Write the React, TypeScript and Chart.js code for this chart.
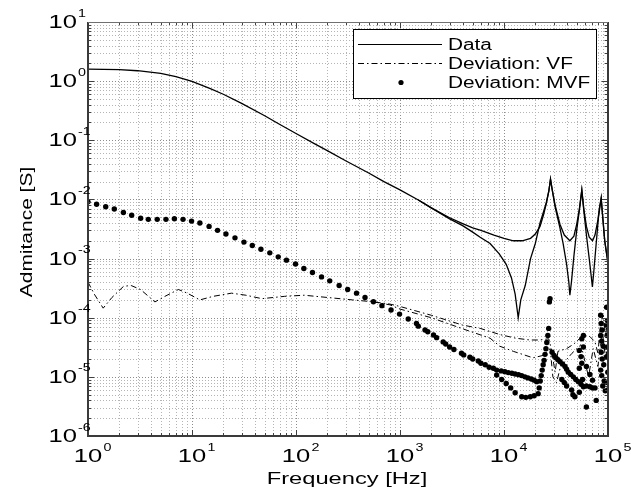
import React, { useEffect, useRef } from "react";
import { Chart, registerables } from "chart.js";
Chart.register(...registerables);

// ---------- data ----------
const dataFreqA = [1, 2, 3, 5, 7, 10, 15, 20, 30, 50, 70, 100, 150, 200, 300, 500, 700, 1000, 1500, 2000, 3000, 4000, 5000, 6000, 8000, 10000, 12300, 15000, 18000, 20000, 22200, 24000, 25500, 27000, 28000, 29000, 31000, 34500, 38000, 43000, 47000, 50000, 53000, 56000, 58500, 62000, 66000, 71000, 75000, 80000, 83000, 86000, 89000, 93000, 97000, 100000];
const dataValA = [1.6, 1.57, 1.5, 1.35, 1.19, 0.99, 0.75, 0.6, 0.42, 0.26, 0.185, 0.13, 0.088, 0.067, 0.045, 0.028, 0.02, 0.0145, 0.0098, 0.0072, 0.0049, 0.0039, 0.0033, 0.003, 0.0025, 0.0022, 0.002, 0.002, 0.0022, 0.0026, 0.0035, 0.0055, 0.0085, 0.014, 0.022, 0.015, 0.008, 0.0038, 0.0025, 0.002, 0.0024, 0.0038, 0.0068, 0.0144, 0.007, 0.0035, 0.0023, 0.002, 0.0025, 0.0045, 0.0075, 0.0105, 0.005, 0.002, 0.0012, 0.0009];

const dataFreqB = [1500, 2000, 3000, 4000, 5000, 5900, 7350, 9000, 10500, 11800, 12800, 13700, 14500, 16000, 18000, 20000, 22200, 24000, 25500, 27000, 28000, 29000, 31000, 34500, 37000, 40000, 42000, 43000, 44500, 47000, 50000, 53000, 56000, 58500, 62000, 66000, 69000, 70800, 73000, 77000, 81000, 86000, 89000, 93000, 97000, 100000];
const dataValB = [0.0098, 0.0072, 0.0047, 0.0036, 0.0028, 0.0023, 0.0018, 0.0012, 0.0008, 0.00047, 0.00025, 0.0001, 0.0002, 0.00035, 0.001, 0.0018, 0.004, 0.0062, 0.0088, 0.014, 0.022, 0.015, 0.0075, 0.0033, 0.0018, 0.0008, 0.0004, 0.00024, 0.0004, 0.0011, 0.003, 0.0065, 0.0144, 0.0065, 0.0025, 0.001, 0.0005, 0.00033, 0.0006, 0.0018, 0.005, 0.0105, 0.005, 0.002, 0.0012, 0.0008];

const vfFreqA = [1, 1.15, 1.4, 1.7, 2.2, 2.6, 3.2, 4.4, 5.5, 7.4, 9, 11.9, 16, 24, 33, 47, 78, 120, 200, 350, 550, 800, 1000, 2000, 4000, 5900, 9100, 13000, 17800, 22000, 26900, 28500, 31000, 33000, 40000, 47000, 53000, 62000, 67000, 75000, 80000, 85000, 90000, 95000, 100000];
const vfValA = [4.0e-4, 2.5e-4, 1.45e-4, 2.2e-4, 3.4e-4, 3.5e-4, 3.0e-4, 1.85e-4, 2.3e-4, 3.0e-4, 2.6e-4, 2.0e-4, 2.3e-4, 2.6e-4, 2.4e-4, 2.1e-4, 2.3e-4, 2.4e-4, 2.2e-4, 2.0e-4, 1.86e-4, 1.7e-4, 1.55e-4, 1.1e-4, 7.5e-5, 6.6e-5, 5.2e-5, 4.5e-5, 4.2e-5, 4.2e-5, 4.4e-5, 3.0e-5, 1.2e-5, 2.7e-5, 3.0e-5, 3.6e-5, 4.4e-5, 5.0e-5, 4.8e-5, 3.9e-5, 2.5e-5, 8e-5, 1.1e-4, 5e-5, 1.1e-4];

const vfFreqB = [550, 800, 1000, 2000, 4000, 7350, 9100, 12300, 19000, 23700, 27800, 29500, 32000, 35000, 45000, 55000, 65000, 72000, 80000, 88000, 95000, 100000];
const vfValB = [1.86e-4, 1.65e-4, 1.4e-4, 1.0e-4, 6.5e-5, 4.5e-5, 3.3e-5, 2.7e-5, 2.1e-5, 2.3e-5, 3.0e-5, 1.0e-5, 8e-6, 1.5e-5, 2.5e-5, 3.5e-5, 1.0e-5, 3e-5, 1.5e-5, 6e-5, 2e-5, 4e-5];

const mvfFreq = [
  1, 1.21, 1.48, 1.79, 2.19, 2.63, 3.21, 3.8, 4.63, 5.62, 6.77, 8.2, 9.9, 11.9, 14.6, 17.6, 21.2, 25.9, 31.6, 38, 46, 56, 67.5, 81, 99, 119, 144, 176, 211, 260, 314, 382, 461, 555, 670, 820, 990, 1200, 1440, 1740, 2100, 2600, 3000, 3900, 4700, 5660, 6600, 7900,
  1500, 1850, 2250, 2750, 3300, 4100, 5000, 6000, 7200,
  8500, 9400, 10200, 11000, 11900, 12800, 13800, 14800, 15900, 17000, 18300, 19500, 20600,
  8500, 9500, 10500, 11600, 12800, 14800, 16200, 17900, 19500, 21300,
  21800, 22300, 22800, 23300, 23800, 24300, 24800, 25300, 25800, 26400, 26900, 27300, 27700,
  29000, 30300, 31500, 33000, 34600, 36500, 38600, 40000, 41500, 43800, 46400, 49000, 51900, 55000, 58000, 62000, 67000, 71000, 75000,
  44700, 46000, 48000, 53000, 62000, 77000, 53000, 55000, 58000, 56000, 58000, 62000, 67000, 71000, 53000, 56000, 57000, 36000, 38000, 40000,
  85000, 86000, 88000, 85000, 87000, 90000, 86000, 88000, 91000, 85000, 87000, 92000, 89000, 94000, 96000, 98000, 99000, 97000, 99500, 98000, 100000, 97000, 99000
];
const mvfVal = [
  9.1e-3, 8.3e-3, 7.5e-3, 6.9e-3, 6.0e-3, 5.4e-3, 4.8e-3, 4.6e-3, 4.6e-3, 4.6e-3, 4.7e-3, 4.6e-3, 4.3e-3, 4.0e-3, 3.5e-3, 3.0e-3, 2.6e-3, 2.24e-3, 1.9e-3, 1.66e-3, 1.44e-3, 1.25e-3, 1.07e-3, 9.4e-4, 8.1e-4, 6.8e-4, 5.8e-4, 4.9e-4, 4.2e-4, 3.5e-4, 3.0e-4, 2.6e-4, 2.2e-4, 1.86e-4, 1.6e-4, 1.35e-4, 1.15e-4, 9.5e-5, 8e-5, 6.2e-5, 5.1e-5, 3.9e-5, 3.2e-5, 2.5e-5, 2.15e-5, 1.85e-5, 1.6e-5, 1.4e-5,
  7.2e-5, 5.8e-5, 4.6e-5, 3.6e-5, 2.9e-5, 2.35e-5, 2.0e-5, 1.7e-5, 1.45e-5,
  1.3e-5, 1.26e-5, 1.22e-5, 1.18e-5, 1.15e-5, 1.12e-5, 1.09e-5, 1.05e-5, 1.0e-5, 9.6e-6, 9.2e-6, 8.8e-6, 8.3e-6,
  1.07e-5, 9e-6, 7.7e-6, 6.5e-6, 5.4e-6, 4.6e-6, 4.5e-6, 4.6e-6, 4.8e-6, 5.2e-6,
  6.5e-6, 8.5e-6, 1.05e-5, 1.3e-5, 1.6e-5, 1.9e-5, 2.4e-5, 3.0e-5, 3.8e-5, 5e-5, 6.6e-5, 1.85e-4, 2.1e-4,
  2.6e-5, 2.3e-5, 2.1e-5, 1.95e-5, 1.8e-5, 1.65e-5, 1.5e-5, 1.35e-5, 1.2e-5, 1.1e-5, 1.0e-5, 9e-6, 8.3e-6, 7.5e-6, 6.8e-6, 7e-6, 6.8e-6, 6.5e-6, 6.5e-6,
  6e-6, 5e-6, 4.6e-6, 5.5e-6, 3.1e-6, 4e-6, 1.4e-5, 2.2e-5, 3.2e-5, 4.4e-5, 5e-5, 1.5e-5, 1.1e-5, 8.8e-6, 2.8e-5, 1.7e-5, 9e-6, 9e-6, 8e-6, 7e-6,
  1.1e-4, 8e-5, 6.2e-5, 5e-5, 4e-5, 3.3e-5, 2.6e-5, 2e-5, 1.6e-5, 1.3e-5, 1.05e-5, 8.5e-6, 7e-6, 5.8e-6, 7.5e-5, 5e-5, 3.2e-5, 2.2e-5, 1.2e-5, 8e-6, 6e-6, 1.5e-4, 9e-5
];

const legendLabels = ["Data", "Deviation: VF", "Deviation: MVF"];
const xTickExps = [0, 1, 2, 3, 4, 5];
const yTickExps = [-6, -5, -4, -3, -2, -1, 0, 1];
const xTitle = "Frequency [Hz]";
const yTitle = "Admitance [S]";

// ---------- drawing helpers ----------
const FONT = '"Liberation Sans", Arial, Helvetica, sans-serif';
const VF_DASH = [6, 3, 1.5, 3];

function sText(ctx: CanvasRenderingContext2D, text: string, x: number, y: number, size: number, sx: number, align: string, baseline: CanvasTextBaseline) {
  ctx.save();
  ctx.font = `${size}px ${FONT}`;
  ctx.textBaseline = baseline;
  ctx.textAlign = "left";
  ctx.translate(x, y);
  ctx.scale(sx, 1);
  const w = ctx.measureText(text).width;
  let dx = 0;
  if (align === "center") dx = -w / 2;
  else if (align === "right") dx = -w;
  ctx.fillText(text, dx, 0);
  ctx.restore();
  return w * sx;
}

function pts(fs: number[], vs: number[]) {
  return fs.map((f, i) => ({ x: f, y: vs[i] }));
}

const framePlugin = {
  id: "frame",
  beforeDatasetsDraw(chart: any) {
    const { ctx, chartArea: a, scales } = chart;
    const xs = scales.x, ys = scales.y;
    ctx.save();
    ctx.lineWidth = 1;
    ctx.setLineDash([1, 2]);
    for (let d = 0; d < 5; d++) {
      for (let m = 1; m <= 9; m++) {
        const v = m * Math.pow(10, d);
        const x = Math.round(xs.getPixelForValue(v)) + 0.5;
        if (x <= a.left + 1 || x >= a.right - 1) continue;
        ctx.strokeStyle = m === 1 ? "#8c8c8c" : "#b4b4b4";
        ctx.beginPath();
        ctx.moveTo(x, a.top);
        ctx.lineTo(x, a.bottom);
        ctx.stroke();
      }
    }
    for (let d = -6; d < 1; d++) {
      for (let m = 1; m <= 9; m++) {
        const v = m * Math.pow(10, d);
        const y = Math.round(ys.getPixelForValue(v)) + 0.5;
        if (y <= a.top + 1 || y >= a.bottom - 1) continue;
        ctx.strokeStyle = m === 1 ? "#8c8c8c" : "#b4b4b4";
        ctx.beginPath();
        ctx.moveTo(a.left, y);
        ctx.lineTo(a.right, y);
        ctx.stroke();
      }
    }
    ctx.restore();
  },
  afterDatasetsDraw(chart: any) {
    const { ctx, chartArea: a, scales } = chart;
    const xs = scales.x, ys = scales.y;
    ctx.save();
    ctx.setLineDash([]);
    // ticks (inward, all sides)
    ctx.strokeStyle = "#404040";
    ctx.lineWidth = 1;
    for (let d = 0; d <= 5; d++) {
      for (let m = 1; m <= 9; m++) {
        if (d === 5 && m > 1) break;
        const v = m * Math.pow(10, d);
        const x = Math.round(xs.getPixelForValue(v)) + 0.5;
        const len = m === 1 ? 6 : 3;
        ctx.beginPath();
        ctx.moveTo(x, a.bottom);
        ctx.lineTo(x, a.bottom - len);
        ctx.moveTo(x, a.top);
        ctx.lineTo(x, a.top + len);
        ctx.stroke();
      }
    }
    for (let d = -6; d <= 1; d++) {
      for (let m = 1; m <= 9; m++) {
        if (d === 1 && m > 1) break;
        const v = m * Math.pow(10, d);
        const y = Math.round(ys.getPixelForValue(v)) + 0.5;
        const len = m === 1 ? 6 : 3;
        ctx.beginPath();
        ctx.moveTo(a.left, y);
        ctx.lineTo(a.left + len, y);
        ctx.moveTo(a.right, y);
        ctx.lineTo(a.right - len, y);
        ctx.stroke();
      }
    }
    // box
    ctx.strokeStyle = "#3a3a3a";
    ctx.lineWidth = 2;
    ctx.beginPath();
    ctx.moveTo(a.left, a.top);
    ctx.lineTo(a.left, a.bottom);
    ctx.lineTo(a.right, a.bottom);
    ctx.lineTo(a.right, a.top);
    ctx.stroke();
    ctx.strokeStyle = "#707070";
    ctx.lineWidth = 1;
    ctx.beginPath();
    ctx.moveTo(a.left, a.top + 0.5);
    ctx.lineTo(a.right, a.top + 0.5);
    ctx.stroke();

    // tick labels
    ctx.fillStyle = "#000";
    for (const e of yTickExps) {
      const y = ys.getPixelForValue(Math.pow(10, e));
      sText(ctx, "10", 77, y + 1, 18, 1.42, "right", "middle");
      sText(ctx, String(e), 78, y - 8.5, 11, 1.3, "left", "middle");
    }
    for (const e of xTickExps) {
      const x = xs.getPixelForValue(Math.pow(10, e));
      sText(ctx, "10", x, 457, 18, 1.42, "center", "middle");
      sText(ctx, String(e), x + 15.5, 448, 11, 1.3, "left", "middle");
    }
    // titles
    sText(ctx, xTitle, (a.left + a.right) / 2 - 1, 484, 16, 1.48, "center", "alphabetic");
    ctx.save();
    ctx.translate(32, 232);
    ctx.rotate(-Math.PI / 2);
    sText(ctx, yTitle, 0, 0, 16.5, 1.27, "center", "alphabetic");
    ctx.restore();

    // legend
    const L = 353, T = 29, R = 597, B = 99;
    ctx.fillStyle = "#fff";
    ctx.fillRect(L, T, R - L, B - T);
    ctx.strokeStyle = "#000";
    ctx.lineWidth = 1;
    ctx.strokeRect(L + 0.5, T + 0.5, R - L - 1, B - T - 1);
    const rows = [44.5, 63.5, 82.5];
    ctx.lineWidth = 1.2;
    ctx.beginPath();
    ctx.moveTo(358, rows[0]);
    ctx.lineTo(442, rows[0]);
    ctx.stroke();
    ctx.setLineDash(VF_DASH);
    ctx.beginPath();
    ctx.moveTo(358, rows[1]);
    ctx.lineTo(442, rows[1]);
    ctx.stroke();
    ctx.setLineDash([]);
    ctx.fillStyle = "#000";
    ctx.beginPath();
    ctx.arc(401, rows[2], 2.6, 0, Math.PI * 2);
    ctx.fill();
    legendLabels.forEach((lab, i) => {
      sText(ctx, lab, 448, rows[i] + 1, 16, 1.3, "left", "middle");
    });
    ctx.restore();
  },
};

export default function App() {
  const ref = useRef<HTMLCanvasElement>(null);
  useEffect(() => {
    const lineBase = { showLine: true, pointRadius: 0, borderColor: "#000", fill: false, tension: 0 };
    const chart = new Chart(ref.current as HTMLCanvasElement, {
      type: "scatter",
      data: {
        datasets: [
          { ...lineBase, label: "Data", data: pts(dataFreqA, dataValA), borderWidth: 1.3 },
          { ...lineBase, label: "Data 2", data: pts(dataFreqB, dataValB), borderWidth: 1.3 },
          { ...lineBase, label: "Deviation: VF", data: pts(vfFreqA, vfValA), borderWidth: 1, borderDash: VF_DASH },
          { ...lineBase, label: "Deviation: VF 2", data: pts(vfFreqB, vfValB), borderWidth: 1, borderDash: VF_DASH },
          {
            label: "Deviation: MVF",
            data: pts(mvfFreq, mvfVal),
            showLine: false,
            pointRadius: 2.7,
            pointBackgroundColor: "#000",
            pointBorderWidth: 0,
            borderColor: "#000",
          },
        ] as any,
      },
      options: {
        responsive: false,
        animation: false,
        devicePixelRatio: 1,
        layout: { padding: { left: 88, top: 22, right: 29, bottom: 55 } },
        plugins: { legend: { display: false }, tooltip: { enabled: false } },
        scales: {
          x: { type: "logarithmic", min: 1, max: 100000, display: false },
          y: { type: "logarithmic", min: 1e-6, max: 10, display: false },
        },
      } as any,
      plugins: [framePlugin],
    });
    return () => chart.destroy();
  }, []);
  return (
    <div style={{ position: "fixed", left: 0, top: 0, width: 637, height: 491, background: "#fff" }}>
      <canvas ref={ref} width={637} height={491} style={{ display: "block" }} />
    </div>
  );
}
